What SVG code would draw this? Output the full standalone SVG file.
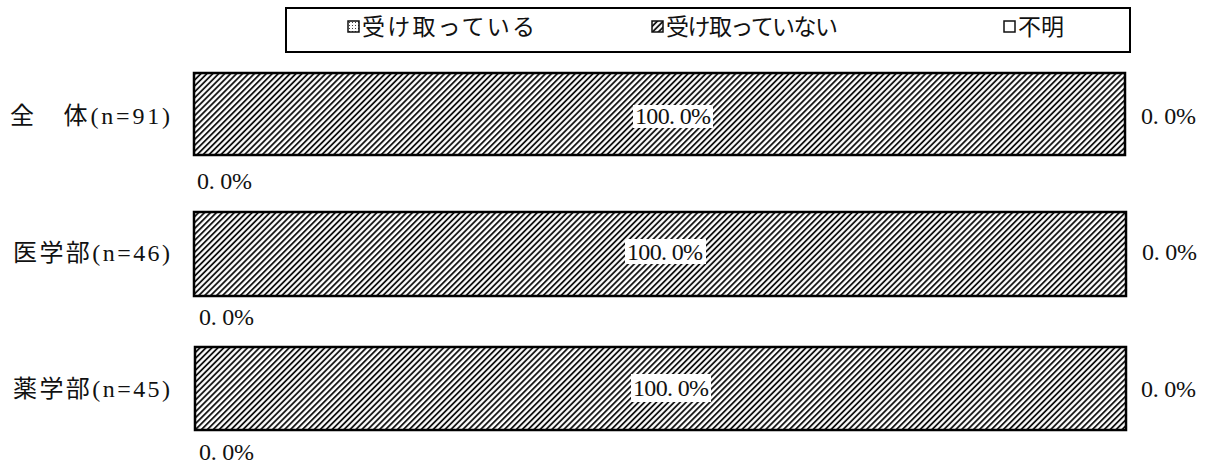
<svg xmlns="http://www.w3.org/2000/svg" width="1208" height="465" viewBox="0 0 1208 465">
<defs>
<pattern id="hatch" patternUnits="userSpaceOnUse" width="4.2" height="4.2" patternTransform="rotate(45)">
<rect width="4.2" height="4.2" fill="#fff"/>
<line x1="1" y1="0" x2="1" y2="4.2" stroke="#000" stroke-width="1.7"/>
</pattern>
<pattern id="dots" patternUnits="userSpaceOnUse" width="3" height="3">
<rect width="3" height="3" fill="#fff"/>
<rect x="1" y="1" width="1" height="1" fill="#444"/>
</pattern>
<style>
.bar{fill:url(#hatch);stroke:#000;stroke-width:2.5}
.lab{font-family:"Liberation Serif","Noto Sans CJK JP",serif;font-size:24px;fill:#111}
.val{font-family:"Liberation Serif","Noto Sans CJK JP",serif;font-size:24px;fill:#111}
.leg{font-family:"Noto Sans CJK JP","Liberation Sans",sans-serif;font-size:23px;fill:#111}
.lbox{stroke:#111;stroke-width:1.5}
.vbg{fill:#fff}
</style>
</defs>
<g id="legend">
<rect x="286" y="8" width="844" height="44" fill="#fff" stroke="#000" stroke-width="2"/>
<rect class="lbox" x="348" y="21" width="11" height="11" fill="url(#dots)"/>
<text class="leg" x="362" y="35" textLength="173">受け取っている</text>
<rect class="lbox" x="652" y="21" width="11" height="11" fill="url(#hatch)"/>
<text class="leg" x="666" y="35" textLength="172">受け取っていない</text>
<rect class="lbox" x="1004" y="21" width="11" height="11" fill="#fff"/>
<text class="leg" x="1018" y="35">不明</text>
</g>
<g id="row-all">
<text class="lab" x="10" y="124" textLength="160">全　体(n=91)</text>
<rect class="bar" x="194" y="73" width="931" height="82"/>
<rect class="vbg" x="633" y="105" width="80" height="23"/>
<text class="val" x="635" y="124" textLength="76">100. 0%</text>
<text class="val" x="1141" y="124" textLength="55">0. 0%</text>
<text class="val" x="197" y="189" textLength="55">0. 0%</text>
</g>
<g id="row-med">
<text class="lab" x="13" y="261" textLength="157">医学部(n=46)</text>
<rect class="bar" x="194" y="212" width="932" height="84"/>
<rect class="vbg" x="625" y="239" width="81" height="25"/>
<text class="val" x="627" y="260" textLength="76">100. 0%</text>
<text class="val" x="1142" y="260" textLength="55">0. 0%</text>
<text class="val" x="199" y="325" textLength="55">0. 0%</text>
</g>
<g id="row-pharm">
<text class="lab" x="13" y="397" textLength="157">薬学部(n=45)</text>
<rect class="bar" x="195" y="347" width="931" height="83"/>
<rect class="vbg" x="631" y="374" width="80" height="28"/>
<text class="val" x="633" y="396" textLength="76">100. 0%</text>
<text class="val" x="1141" y="397" textLength="55">0. 0%</text>
<text class="val" x="199" y="460" textLength="55">0. 0%</text>
</g>
<g id="connectors"/>
</svg>
